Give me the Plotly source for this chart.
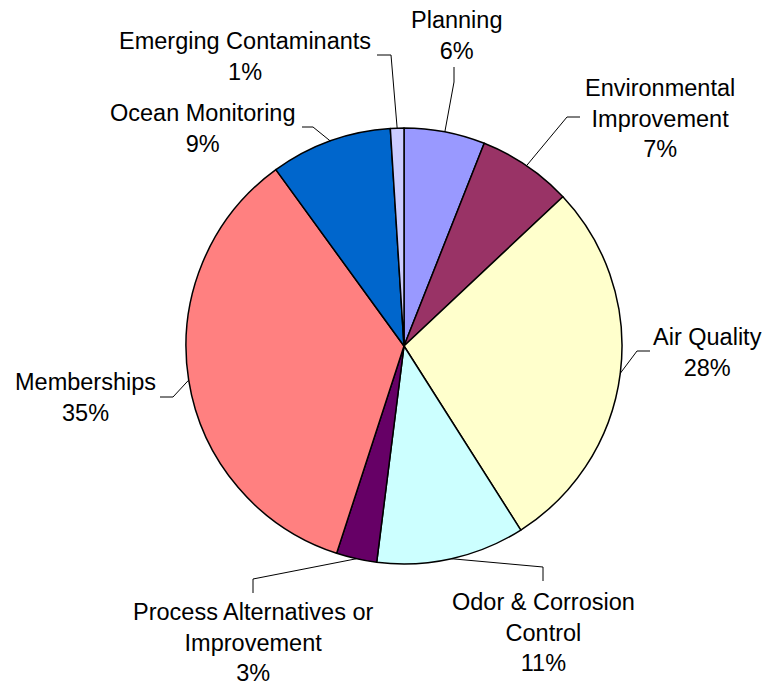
import math
import plotly.graph_objects as go

# Budget share by program area (percent), clockwise from 12 o'clock
categories = [
    "Planning",
    "Environmental Improvement",
    "Air Quality",
    "Odor & Corrosion Control",
    "Process Alternatives or Improvement",
    "Memberships",
    "Ocean Monitoring",
    "Emerging Contaminants",
]
shares = [6, 7, 28, 11, 3, 35, 9, 1]
label_lines = [
    ["Planning"],
    ["Environmental", "Improvement"],
    ["Air Quality"],
    ["Odor & Corrosion", "Control"],
    ["Process Alternatives or", "Improvement"],
    ["Memberships"],
    ["Ocean Monitoring"],
    ["Emerging Contaminants"],
]
colors = ["#9999FF", "#993366", "#FFFFCC", "#CCFFFF",
          "#660066", "#FF8080", "#0066CC", "#CCCCFF"]

W, H = 770, 690
CX, CY, R = 404, 346, 218

# Label placement in pixels: text centre, leader elbow, leader tail
label_pos = [(456, 35), (660, 119), (707, 352), (543, 632),
             (253, 642), (85, 397), (203, 128), (245, 57)]
elbows = [(454, 82), (567, 117), (637, 351), (543, 567),
          (253, 579), (173, 397), (313, 127), (391, 55)]
tails = [(454, 67), (580, 117), (650, 351), (543, 581),
         (253, 593), (160, 397), (302, 127), (377, 55)]


def px(x, y):
    return x / W, 1 - y / H


fig = go.Figure(go.Pie(
    labels=categories,
    values=shares,
    sort=False,
    direction="clockwise",
    rotation=0,
    textinfo="none",
    hoverinfo="label+percent",
    marker=dict(colors=colors, line=dict(color="#000000", width=1.5)),
    domain=dict(x=[(CX - R) / W, (CX + R) / W],
                y=[1 - (CY + R) / H, 1 - (CY - R) / H]),
    showlegend=False,
))

total = sum(shares)
cum = 0
shapes, annotations = [], []
for i, v in enumerate(shares):
    mid = (cum + v / 2) / total * 2 * math.pi
    cum += v
    ex0 = CX + R * math.sin(mid)
    ey0 = CY - R * math.cos(mid)
    pts = [px(ex0, ey0), px(*elbows[i]), px(*tails[i])]
    path = "M {} {} L {} {} L {} {}".format(*[c for p in pts for c in p])
    shapes.append(dict(type="path", xref="paper", yref="paper", path=path,
                       line=dict(color="#000000", width=1)))
    pct = round(v / total * 100)
    text = "<br>".join(label_lines[i] + [f"{pct}%"])
    lx, ly = px(*label_pos[i])
    annotations.append(dict(x=lx, y=ly, xref="paper", yref="paper",
                            text=text, showarrow=False, align="center",
                            xanchor="center", yanchor="middle",
                            font=dict(family="Liberation Sans, Arial", size=23.5,
                                      color="#000000")))

fig.update_layout(
    width=W, height=H,
    margin=dict(l=0, r=0, t=0, b=0),
    paper_bgcolor="#FFFFFF",
    plot_bgcolor="#FFFFFF",
    shapes=shapes,
    annotations=annotations,
)

fig.write_html("out.html")
